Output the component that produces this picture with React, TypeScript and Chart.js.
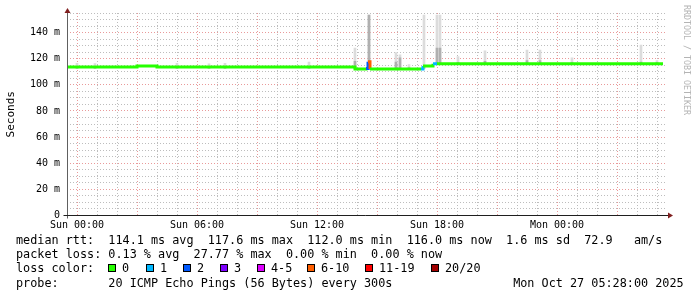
import React, { useEffect, useRef } from 'react';
import { Chart, registerables } from 'chart.js';

Chart.register(...registerables);

// ---------- data (hours relative to Sun 00:00, values in ms) ----------
const X_MIN = -0.5;
const X_MAX = 29.5;
const Y_MAX = 155;

const xTickHours = [0, 6, 12, 18, 24];
const xTickLabels = ['Sun 00:00', 'Sun 06:00', 'Sun 12:00', 'Sun 18:00', 'Mon 00:00'];

const yTickValues = [0, 20, 40, 60, 80, 100, 120, 140];
const yTickLabels = ['0', '20 m', '40 m', '60 m', '80 m', '100 m', '120 m', '140 m'];

// median rtt (step line), with loss count per step
const medianHours = [-0.5, 3.0, 4.0, 13.9, 14.45, 14.55, 14.65, 17.2, 17.3, 17.8, 18.0, 29.3];
const medianMs = [113.6, 114.5, 113.6, 112.2, 112.6, 117.6, 112.1, 112.1, 114.5, 116.1, 116.1, 116.1];
const medianLoss = [0, 0, 0, 0, 2, 6, 0, 1, 0, 1, 0, 0];

// smoke (ping spread) columns
const smokeHours = [0.0, 0.9, 5.0, 6.6, 7.4, 11.6, 13.9, 14.6, 15.95, 16.15, 16.6, 17.35, 18.0, 18.15, 19.05, 20.4, 22.5, 23.15, 24.75, 28.2, 29.0];
const smokeMinMs = [112.8, 112.8, 112.8, 112.8, 112.8, 112.8, 112.8, 111.8, 111.8, 111.8, 111.8, 112.5, 115.6, 115.6, 115.6, 115.6, 115.6, 115.6, 115.6, 115.6, 115.6];
const smokeMaxMs = [116.5, 116.2, 116.5, 116.0, 116.5, 117.5, 128.2, 153.4, 124.7, 123.0, 115.5, 153.4, 153.4, 153.4, 121.6, 126.0, 126.7, 126.7, 120.6, 130.5, 118.5];
const smokeCoreMs = [113.5, 113.5, 113.5, 113.5, 113.5, 113.5, 118.0, 153.4, 117.5, 120.6, 113.0, 113.5, 128.2, 128.2, 117.0, 118.0, 118.5, 118.5, 117.0, 117.5, 117.0];

// legend
const lossLabels = ['0', '1', '2', '3', '4-5', '6-10', '11-19', '20/20'];
const lossColors = ['#26ff00', '#00b8ff', '#0059ff', '#7e00ff', '#dd00ff', '#ff5e00', '#ff0000', '#a10000'];
const lossMin = [0, 1, 2, 3, 4, 6, 11, 20];

const statLine1 = 'median rtt:  114.1 ms avg  117.6 ms max  112.0 ms min  116.0 ms now  1.6 ms sd  72.9   am/s';
const statLine2 = 'packet loss: 0.13 % avg  27.77 % max  0.00 % min  0.00 % now';
const probeLine = 'probe:       20 ICMP Echo Pings (56 Bytes) every 300s                 Mon Oct 27 05:28:00 2025';

// ---------- styling ----------
const W = 697;
const H = 297;
const MONO = '"DejaVu Sans Mono", monospace';
const GRID_MINOR = '#bdbdbd';
const GRID_MAJOR = '#e99a9a';

function lossColor(n: number): string {
  let c = lossColors[0];
  for (let i = 0; i < lossMin.length; i++) if (n >= lossMin[i]) c = lossColors[i];
  return c;
}

const axesPlugin = {
  id: 'rrdAxes',
  afterDraw(chart: any) {
    const { ctx, chartArea: a } = chart;
    const x0 = Math.round(a.left) + 0.5;
    const y0 = Math.floor(a.bottom) + 0.5;
    ctx.save();
    ctx.lineWidth = 1;
    ctx.strokeStyle = '#606060';
    ctx.beginPath();
    ctx.moveTo(x0, y0 + 3);
    ctx.lineTo(x0, a.top - 1);
    ctx.stroke();
    ctx.strokeStyle = '#1f1f1f';
    ctx.beginPath();
    ctx.moveTo(x0 - 4, y0);
    ctx.lineTo(a.right + 1, y0);
    ctx.stroke();
    ctx.fillStyle = '#801f1f';
    ctx.beginPath();
    ctx.moveTo(x0 - 3, a.top);
    ctx.lineTo(x0 + 3, a.top);
    ctx.lineTo(x0, a.top - 5);
    ctx.closePath();
    ctx.fill();
    ctx.beginPath();
    ctx.moveTo(a.right + 1, y0 - 3);
    ctx.lineTo(a.right + 1, y0 + 3);
    ctx.lineTo(a.right + 6, y0);
    ctx.closePath();
    ctx.fill();
    ctx.restore();
  },
};

export default function App() {
  const ref = useRef<HTMLCanvasElement>(null);

  useEffect(() => {
    const canvas = ref.current;
    if (!canvas) return;
    const chart = new Chart(canvas, {
      type: 'bar',
      data: {
        datasets: [
          {
            type: 'line',
            label: 'median',
            data: medianHours.map((h, i) => ({ x: h, y: medianMs[i] })),
            borderColor: lossColors[0],
            borderWidth: 3,
            stepped: true,
            pointRadius: 0,
            borderCapStyle: 'butt',
            borderJoinStyle: 'miter',
            segment: {
              borderColor: (c: any) => lossColor(medianLoss[c.p0DataIndex]),
            },
            order: 0,
          } as any,
          {
            type: 'bar',
            label: 'smoke core',
            data: smokeHours.map((h, i) => ({ x: h, y: [smokeMinMs[i], smokeCoreMs[i]] })),
            backgroundColor: '#b0b0b0',
            barThickness: 2,
            grouped: false,
            borderWidth: 0,
            order: 1,
          } as any,
          {
            type: 'bar',
            label: 'smoke',
            data: smokeHours.map((h, i) => ({ x: h, y: [smokeMinMs[i], smokeMaxMs[i]] })),
            backgroundColor: '#dcdcdc',
            barThickness: 2,
            grouped: false,
            borderWidth: 0,
            order: 2,
          } as any,
        ],
      },
      options: {
        responsive: false,
        animation: false,
        events: [],
        devicePixelRatio: 1,
        layout: { padding: { left: 0, right: 30, top: 13, bottom: 0 } },
        plugins: { legend: { display: false }, tooltip: { enabled: false }, title: { display: false } },
        scales: {
          x: {
            type: 'linear',
            min: X_MIN,
            max: X_MAX,
            offset: false,
            afterBuildTicks: (axis: any) => {
              const t = [];
              for (let h = 0; h <= 29; h++) t.push({ value: h });
              axis.ticks = t;
            },
            afterFit: (axis: any) => {
              axis.height = H - 215.5;
            },
            grid: {
              offset: false,
              drawTicks: false,
              lineWidth: 1,
              color: (c: any) => (c.tick && c.tick.value % 3 === 0 ? GRID_MAJOR : GRID_MINOR),
            },
            border: { display: false, dash: [1, 2] },
            ticks: {
              autoSkip: false,
              maxRotation: 0,
              padding: 4,
              color: '#000',
              font: { family: MONO, size: 10 },
              callback: (v: any) => {
                const i = xTickHours.indexOf(Number(v));
                return i >= 0 ? xTickLabels[i] : '';
              },
            },
          },
          y: {
            type: 'linear',
            min: 0,
            max: Y_MAX,
            afterFit: (axis: any) => {
              axis.width = 67;
            },
            grid: {
              drawTicks: false,
              lineWidth: 1,
              color: (c: any) => (c.tick && c.tick.value % 20 === 0 ? GRID_MAJOR : GRID_MINOR),
            },
            border: { display: false, dash: [1, 2] },
            title: {
              display: true,
              text: 'Seconds',
              color: '#000',
              font: { family: MONO, size: 11 },
              padding: { top: 4.5, bottom: 0 },
            },
            ticks: {
              autoSkip: false,
              stepSize: 5,
              padding: 7,
              color: '#000',
              font: { family: MONO, size: 10 },
              callback: (v: any) => {
                const i = yTickValues.indexOf(Number(v));
                return i >= 0 ? yTickLabels[i] : '';
              },
            },
          },
        },
      } as any,
      plugins: [axesPlugin],
    });
    return () => chart.destroy();
  }, []);

  const textStyle: React.CSSProperties = {
    position: 'absolute',
    left: 16,
    fontFamily: MONO,
    fontSize: '11.8px',
    lineHeight: '14px',
    whiteSpace: 'pre',
    color: '#000',
    margin: 0,
  };
  const boxX = [108, 146, 183, 220, 257, 307, 365, 431];

  return (
    <div style={{ position: 'absolute', left: 0, top: 0, width: W, height: H, background: '#fff', overflow: 'hidden' }}>
      <canvas ref={ref} width={W} height={H} style={{ display: 'block', width: W, height: H }} />
      <div style={{ ...textStyle, top: 233.4 }}>{statLine1}</div>
      <div style={{ ...textStyle, top: 247.4 }}>{statLine2}</div>
      <div style={{ ...textStyle, top: 261.4 }}>{'loss color:'}</div>
      {lossLabels.map((lab, i) => (
        <React.Fragment key={lab}>
          <div
            style={{
              position: 'absolute',
              left: boxX[i],
              top: 264,
              width: 8,
              height: 8,
              boxSizing: 'border-box',
              border: '1px solid #000',
              background: lossColors[i],
            }}
          />
          <div style={{ ...textStyle, left: boxX[i] + 14, top: 261.4 }}>{lab}</div>
        </React.Fragment>
      ))}
      <div style={{ ...textStyle, top: 275.6 }}>{probeLine}</div>
      <div
        style={{
          position: 'absolute',
          left: 682,
          top: 5,
          writingMode: 'vertical-rl',
          fontFamily: MONO,
          fontSize: '8.3px',
          lineHeight: '9px',
          color: '#b4b4b4',
          whiteSpace: 'pre',
        }}
      >
        RRDTOOL / TOBI OETIKER
      </div>
    </div>
  );
}
